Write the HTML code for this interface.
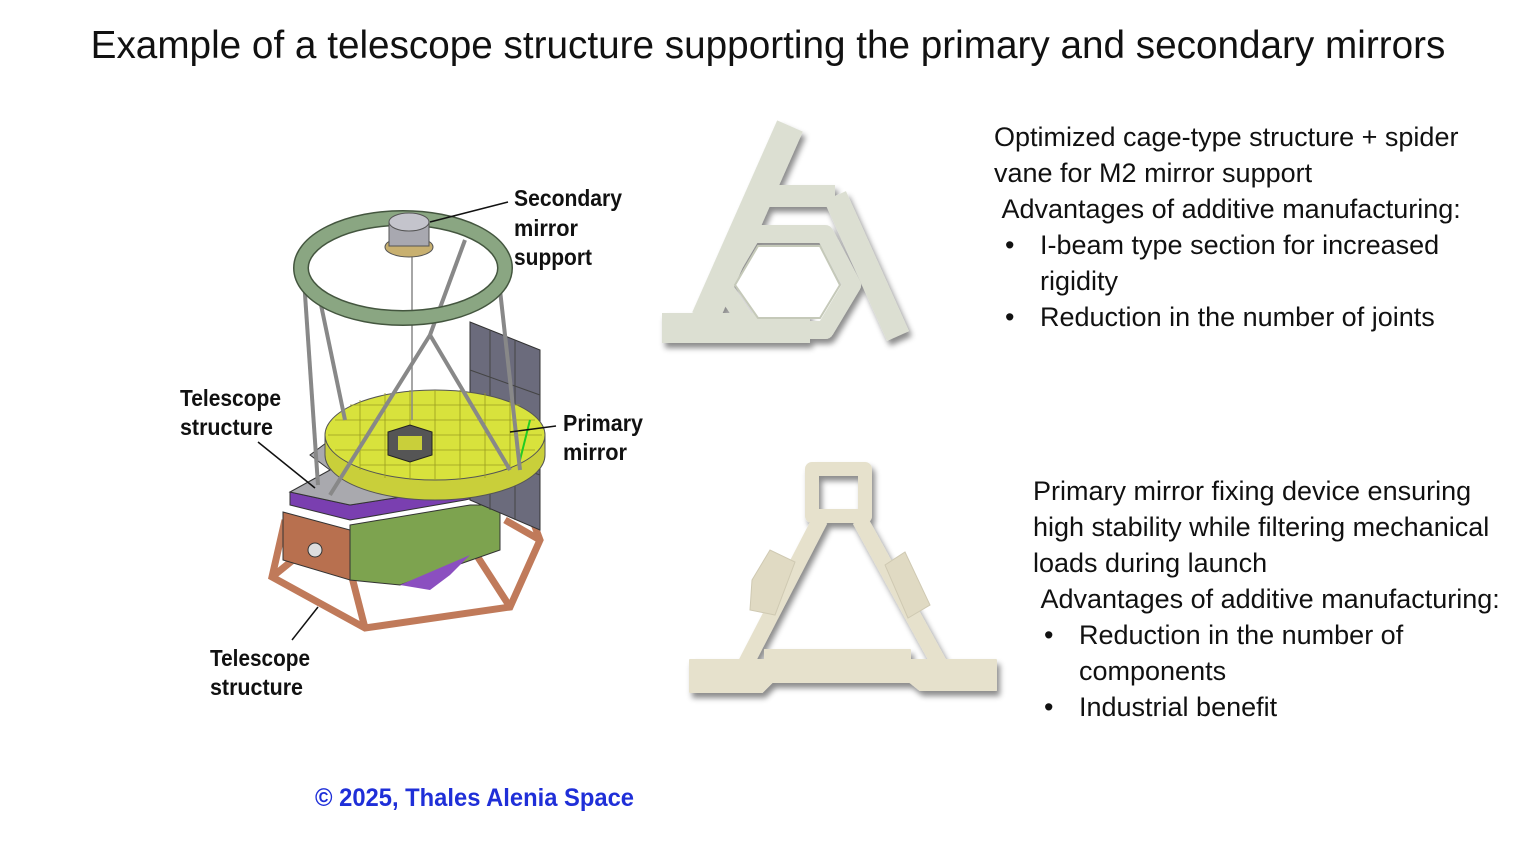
<!DOCTYPE html>
<html><head><meta charset="utf-8"><style>
body{margin:0;background:#fff;width:1536px;height:853px;overflow:hidden;position:relative;font-family:"Liberation Sans",sans-serif;}
.t{position:absolute;color:#111;font-size:27px;line-height:36px;white-space:nowrap}
</style></head><body>
<div class="t" style="left:0;width:1536px;text-align:center;top:23px;font-size:38.7px;line-height:46px">Example of a telescope structure supporting the primary and secondary mirrors</div>
<div class="t" style="left:994px;top:119px">Optimized cage-type structure + spider<br>vane for M2 mirror support<br>&nbsp;Advantages of additive manufacturing:</div>
<div class="t" style="left:1005px;top:227px">•</div><div class="t" style="left:1040px;top:227px">I-beam type section for increased<br>rigidity</div>
<div class="t" style="left:1005px;top:299px">•</div><div class="t" style="left:1040px;top:299px">Reduction in the number of joints</div>
<div class="t" style="left:1033px;top:473px">Primary mirror fixing device ensuring<br>high stability while filtering mechanical<br>loads during launch<br>&nbsp;Advantages of additive manufacturing:</div>
<div class="t" style="left:1044px;top:617px">•</div><div class="t" style="left:1079px;top:617px">Reduction in the number of<br>components</div>
<div class="t" style="left:1044px;top:689px">•</div><div class="t" style="left:1079px;top:689px">Industrial benefit</div>
<svg width="1536" height="853" style="position:absolute;left:0;top:0">
<defs><filter id="sh"><feDropShadow dx="3" dy="5" stdDeviation="3" flood-color="#000" flood-opacity="0.45"/></filter></defs>
<g stroke="#c07a5a" stroke-width="7" fill="none">
<polyline points="285,520 272,577 365,628 510,607 540,540 522,492"/>
<line x1="272" y1="577" x2="330" y2="530"/><line x1="365" y1="628" x2="345" y2="550"/>
<line x1="510" y1="607" x2="470" y2="545"/><line x1="540" y1="540" x2="505" y2="520"/>
</g>
<path d="M283,512 L350,530 L350,580 L283,560Z" fill="#b8704f" stroke="#333"/>
<circle cx="315" cy="550" r="7" fill="#ddd" stroke="#333"/>
<path d="M350,525 L470,505 L500,505 L500,550 L400,585 L350,580Z" fill="#7da34f" stroke="#333"/>
<path d="M400,585 L470,555 L450,575 L430,590Z" fill="#8b4fc0"/>
<path d="M290,505 L350,520 L465,500 L530,485 L530,470 L465,487 L350,505 L290,492Z" fill="#7a3fb0" stroke="#333"/>
<path d="M290,492 L330,470 L310,455 L330,440 L500,430 L530,455 L530,470 L465,487 L350,505Z" fill="#a9a9ae" stroke="#333"/>
<path d="M470,322 L540,350 L540,530 L470,500Z" fill="#6b6b7c" stroke="#333"/>
<g stroke="#444" fill="none"><path d="M490,330 V510 M515,340 V520 M470,370 L540,395 M470,410 L540,435 M470,450 L540,475"/></g>
<path d="M325,435 L325,455 A110,45 0 0 0 545,455 L545,435Z" fill="#c9cf3a" stroke="#555"/>
<ellipse cx="435" cy="435" rx="110" ry="45" fill="#d8e23c" stroke="#555"/>
<g stroke="#9a9d20" stroke-width="0.8" fill="none">
<path d="M335,420 H535 M328,435 H542 M335,450 H535 M350,405 H520 M360,465 H510"/>
<path d="M360,400 V470 M385,393 V478 M410,390 V480 M435,390 V480 M460,390 V480 M485,393 V478 M510,400 V470"/>
</g>
<path d="M388,432 L410,425 L432,432 L432,455 L410,462 L388,455Z" fill="#555" stroke="#222"/>
<rect x="398" y="436" width="24" height="14" fill="#c9cf3a"/>
<line x1="520" y1="460" x2="530" y2="420" stroke="#2c2" stroke-width="2"/>
<g stroke="#888" stroke-width="4">
<line x1="303" y1="265" x2="318" y2="485"/><line x1="320" y1="300" x2="345" y2="420"/>
<line x1="465" y1="240" x2="430" y2="335"/><line x1="500" y1="290" x2="520" y2="470"/>
<line x1="430" y1="335" x2="330" y2="495"/><line x1="430" y1="335" x2="510" y2="470"/>
</g>
<line x1="412" y1="220" x2="412" y2="420" stroke="#888" stroke-width="1.5"/>
<ellipse cx="403" cy="268" rx="102" ry="50" fill="none" stroke="#44563f" stroke-width="16"/>
<ellipse cx="403" cy="268" rx="102" ry="50" fill="none" stroke="#8aa682" stroke-width="13"/>
<ellipse cx="409" cy="247" rx="24" ry="10" fill="#c8b070" stroke="#555"/>
<rect x="389" y="222" width="40" height="24" fill="#a8a8b0" stroke="#555"/>
<ellipse cx="409" cy="222" rx="20" ry="9" fill="#c4c4cc" stroke="#555"/>
<g stroke="#111" stroke-width="1.5">
<line x1="430" y1="222" x2="508" y2="202"/><line x1="258" y1="442" x2="315" y2="488"/>
<line x1="510" y1="432" x2="556" y2="426"/><line x1="292" y1="640" x2="318" y2="607"/>
</g>
<g font-family="Liberation Sans,sans-serif" font-weight="bold" font-size="23" fill="#111">
<text x="514" y="206" textLength="108" lengthAdjust="spacingAndGlyphs">Secondary</text>
<text x="514" y="236" textLength="64" lengthAdjust="spacingAndGlyphs">mirror</text>
<text x="514" y="265" textLength="78" lengthAdjust="spacingAndGlyphs">support</text>
<text x="180" y="406" textLength="101" lengthAdjust="spacingAndGlyphs">Telescope</text>
<text x="180" y="435" textLength="93" lengthAdjust="spacingAndGlyphs">structure</text>
<text x="563" y="431" textLength="80" lengthAdjust="spacingAndGlyphs">Primary</text>
<text x="563" y="460" textLength="64" lengthAdjust="spacingAndGlyphs">mirror</text>
<text x="210" y="666" textLength="100" lengthAdjust="spacingAndGlyphs">Telescope</text>
<text x="210" y="695" textLength="93" lengthAdjust="spacingAndGlyphs">structure</text>
<text x="315" y="806" fill="#1f2fd8" font-size="25" textLength="319" lengthAdjust="spacingAndGlyphs">© 2025, Thales Alenia Space</text>
</g>
<!-- top bracket -->
<g filter="url(#sh)" stroke="#dcdfd2" fill="none" stroke-linejoin="round">
<line x1="705" y1="318" x2="790" y2="126" stroke-width="28"/>
<line x1="760" y1="196" x2="835" y2="196" stroke-width="22"/>
<line x1="835" y1="196" x2="898" y2="336" stroke-width="24"/>
<line x1="662" y1="328" x2="810" y2="328" stroke-width="30"/>
<path d="M722,285 L752,234 L825,234 L852,285 L825,330 L752,330Z" stroke-width="18"/>
</g>
<path d="M735,285 L758,246 L820,246 L840,285 L820,318 L758,318Z" fill="#fff" stroke="#c5c9b9" stroke-width="2"/>
<!-- bottom bracket -->
<g filter="url(#sh)" stroke="#e6e1cc" fill="none" stroke-linejoin="round">
<rect x="812" y="469" width="53" height="47" stroke-width="14"/>
<line x1="820" y1="520" x2="745" y2="665" stroke-width="16"/>
<line x1="860" y1="520" x2="940" y2="665" stroke-width="16"/>
<path d="M690,660 H765 V650 H910 V660 H996 V690 H920 L910,682 H772 L762,692 H690Z" fill="#e6e1cc" stroke-width="2"/>
</g>
<path d="M752,580 L770,550 L795,562 L775,615 L750,610Z M885,565 L905,552 L930,605 L908,618Z" fill="#e0dac3" stroke="#cfc9b2"/>
</svg>
</body></html>
